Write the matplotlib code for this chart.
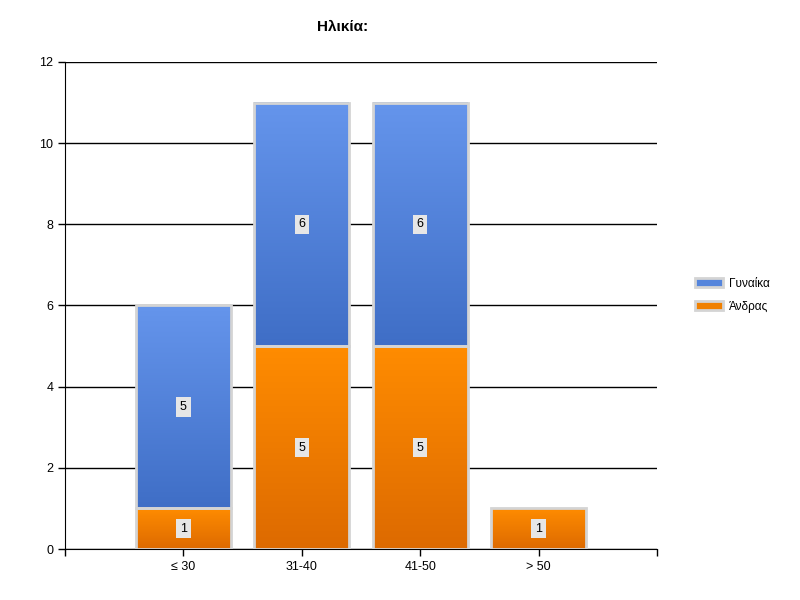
import numpy as np
import matplotlib.pyplot as plt
from matplotlib.colors import LinearSegmentedColormap
from matplotlib.patches import Patch

plt.rcParams['font.family'] = ['Liberation Sans', 'DejaVu Sans']

categorias = ['≤ 30', '31-40', '41-50', '> 50']
andras = [1, 5, 5, 1]
gynaika = [5, 6, 6, 0]
titulo = 'Ηλικία:'

cmap_andras = LinearSegmentedColormap.from_list('andras', ['#dd6a00', '#ff8c00'])
cmap_gynaika = LinearSegmentedColormap.from_list('gynaika', ['#3f6ec6', '#6595ec'])
borda = '#d4d4d4'

fig = plt.figure(figsize=(8, 6), dpi=100)
ax = fig.add_axes([0.08125, 0.085, 0.74, 0.8117])

xpos = np.arange(len(categorias))
largura = 0.8
grad = np.linspace(0, 1, 256).reshape(-1, 1)


def barra_gradiente(x, y0, h, cmap):
    if h <= 0:
        return
    ax.imshow(grad, extent=(x - largura / 2, x + largura / 2, y0, y0 + h),
              origin='lower', aspect='auto', cmap=cmap, zorder=2)
    ax.add_patch(plt.Rectangle((x - largura / 2, y0), largura, h, fill=False,
                               ec=borda, lw=2, zorder=3))
    ax.text(x, y0 + h / 2, f'{h}', ha='center', va='center', fontsize=9,
            zorder=4, bbox=dict(boxstyle='square,pad=0.3', fc='#e6e6e6', ec='none'))


for x, a, g in zip(xpos, andras, gynaika):
    barra_gradiente(x, 0, a, cmap_andras)
    barra_gradiente(x, a, g, cmap_gynaika)

ax.set_xlim(-1, 4)
ax.set_ylim(0, 12)
ax.set_yticks(np.arange(0, 13, 2))
ax.set_xticks(xpos)
ax.set_xticklabels(categorias)
ax.set_xticks([-1, 4], minor=True)
ax.tick_params(axis='both', labelsize=9, length=5, width=1, color='black')
ax.tick_params(axis='x', which='minor', length=5, width=1)
ax.grid(axis='y', color='black', linewidth=1)
ax.set_axisbelow(True)
for lado in ['top', 'right']:
    ax.spines[lado].set_visible(False)

fig.text(343 / 800, 1 - 27 / 600, titulo, ha='center', va='center',
         fontsize=11, fontweight='bold')

handles = [Patch(fc='#5585dc', ec=borda, lw=2), Patch(fc='#f08000', ec=borda, lw=2)]
fig.legend(handles, ['Γυναίκα', 'Άνδρας'], loc='center left',
           bbox_to_anchor=(0.855, 0.508), frameon=False, fontsize=8.5,
           handlelength=2.4, handleheight=0.8, handletextpad=0.5, labelspacing=0.9)

fig.savefig('out.png', dpi=100)
